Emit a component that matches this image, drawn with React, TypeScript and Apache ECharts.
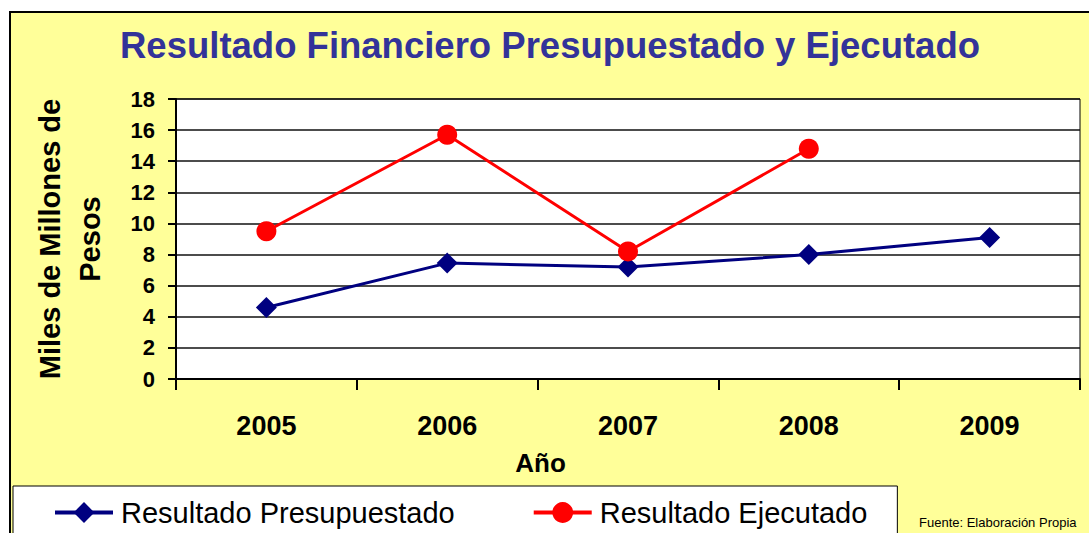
import React, { useEffect, useRef } from 'react';
import * as echarts from 'echarts';

const years = ['2005', '2006', '2007', '2008', '2009'];
const presupuestado = [4.6, 7.45, 7.2, 8.0, 9.1];
const ejecutado: (number | null)[] = [9.5, 15.7, 8.2, 14.8, null];
const yMin = 0;
const yMax = 18;
const yStep = 2;

const titleText = 'Resultado Financiero Presupuestado y Ejecutado';
const yName = 'Miles de Millones de\nPesos';
const xName = 'Año';
const sourceText = 'Fuente: Elaboración Propia';
const seriesNames = ['Resultado Presupuestado', 'Resultado Ejecutado'];

const FONT = '"Liberation Sans", Arial, sans-serif';

export default function App() {
  const ref = useRef<HTMLDivElement>(null);
  useEffect(() => {
    if (!ref.current) return;
    const chart = echarts.init(ref.current, null, { renderer: 'svg' });
    chart.setOption({
      animation: false,
      backgroundColor: '#FFFF99',
      textStyle: { fontFamily: FONT },
      title: {
        text: titleText,
        left: 120,
        top: 27,
        padding: 0,
        textStyle: { fontSize: 36.5, fontWeight: 'bold', color: '#333399', fontFamily: FONT },
      },
      grid: {
        left: 176,
        right: 9,
        top: 99,
        bottom: 154,
        show: true,
        backgroundColor: '#FFFFFF',
        borderColor: '#000000',
        borderWidth: 1,
        containLabel: false,
      },
      legend: {
        left: 13,
        top: 486,
        orient: 'horizontal',
        itemGap: 77,
        itemWidth: 58,
        itemHeight: 26,
        padding: [12, 30, 20, 40],
        backgroundColor: '#FFFFFF',
        borderColor: '#000000',
        borderWidth: 1,
        borderRadius: 0,
        lineStyle: { width: 4 },
        textStyle: { fontSize: 29, color: '#000', fontFamily: FONT, padding: [0, 0, 0, 3] },
        data: seriesNames,
      },
      xAxis: {
        type: 'category',
        data: years,
        boundaryGap: true,
        axisLine: { show: true, lineStyle: { color: '#000', width: 2 } },
        axisTick: { show: true, length: 11, alignWithLabel: false, lineStyle: { color: '#000', width: 2 } },
        axisLabel: { fontSize: 27, fontWeight: 'bold', color: '#000', margin: 33, fontFamily: FONT },
        splitLine: { show: false },
      },
      yAxis: {
        type: 'value',
        min: yMin,
        max: yMax,
        interval: yStep,
        name: yName,
        nameLocation: 'middle',
        nameRotate: 90,
        nameGap: 66,
        nameTextStyle: { fontSize: 29, fontWeight: 'bold', color: '#000', lineHeight: 40, fontFamily: FONT },
        axisLine: { show: true, lineStyle: { color: '#000', width: 2 } },
        axisTick: { show: true, length: 8, lineStyle: { color: '#000', width: 2 } },
        axisLabel: { fontSize: 22, fontWeight: 'bold', color: '#000', margin: 21, fontFamily: FONT },
        splitLine: { show: true, lineStyle: { color: '#111', width: 1.5 } },
      },
      series: [
        {
          name: seriesNames[0],
          type: 'line',
          data: presupuestado,
          symbol: 'diamond',
          symbolSize: 21,
          lineStyle: { color: '#000080', width: 3 },
          itemStyle: { color: '#000080' },
          z: 2,
        },
        {
          name: seriesNames[1],
          type: 'line',
          data: ejecutado,
          connectNulls: false,
          symbol: 'circle',
          symbolSize: 20,
          lineStyle: { color: '#FF0000', width: 3 },
          itemStyle: { color: '#FF0000' },
          z: 3,
        },
      ],
      graphic: [
        { type: 'rect', shape: { x: 0, y: 0, width: 1089, height: 11 }, style: { fill: '#FFFFFF' }, silent: true },
        { type: 'rect', shape: { x: 0, y: 0, width: 9, height: 533 }, style: { fill: '#FFFFFF' }, silent: true },
        { type: 'line', shape: { x1: 9, y1: 12, x2: 1089, y2: 12 }, style: { stroke: '#000', lineWidth: 2 }, silent: true },
        { type: 'line', shape: { x1: 10, y1: 11, x2: 10, y2: 533 }, style: { stroke: '#000', lineWidth: 2 }, silent: true },
        {
          type: 'text',
          x: 540.5,
          y: 463,
          style: {
            text: xName,
            fontSize: 26,
            fontWeight: 'bold',
            fontFamily: FONT,
            fill: '#000',
            align: 'center',
            verticalAlign: 'middle',
            textAlign: 'center',
            textVerticalAlign: 'middle',
          },
        },
        {
          type: 'text',
          x: 919,
          y: 516,
          style: {
            text: sourceText,
            fontSize: 13,
            fontFamily: FONT,
            fill: '#000',
            align: 'left',
            verticalAlign: 'top',
            textAlign: 'left',
            textVerticalAlign: 'top',
          },
        },
      ],
    });
    return () => chart.dispose();
  }, []);
  return (
    <div
      ref={ref}
      style={{ position: 'absolute', left: 0, top: 0, width: 1089, height: 533 }}
    />
  );
}
